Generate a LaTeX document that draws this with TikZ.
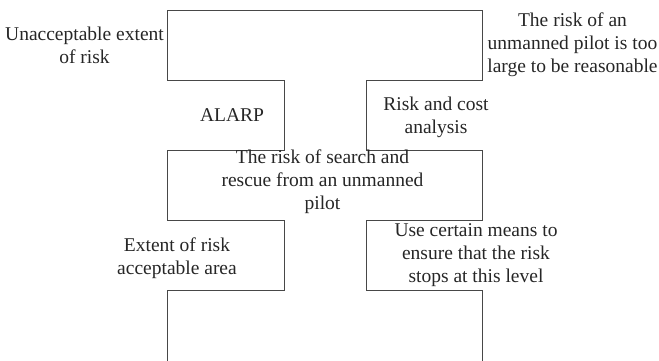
\documentclass[tikz,border=0pt]{standalone}
\usepackage{fontspec}
\setmainfont{Liberation Serif}
\begin{document}
\begin{tikzpicture}[x=1pt,y=-1pt,
  outline/.style={draw=black!72,line width=1pt,line join=miter},
  lbl/.style={align=center,inner sep=0pt,font=\fontsize{19.5}{23}\selectfont,text=black!85}]
\useasboundingbox (0,0) rectangle (659,360);
% outline coordinates
\coordinate (tl) at (167.5,10);
\coordinate (tr) at (482.7,10);
\coordinate (bl) at (167.5,362);
\coordinate (br) at (482.7,362);
\draw[outline] (bl) -- (167.5,290) -- (284.3,290) -- (284.3,220) -- (167.5,220) -- (167.5,150)
  -- (284.3,150) -- (284.3,80) -- (167.5,80) -- (tl) -- (tr) -- (482.7,80) -- (366.7,80)
  -- (366.7,150) -- (482.7,150) -- (482.7,220) -- (366.7,220) -- (366.7,290) -- (482.7,290) -- (br);
% labels
\node[lbl] (unacc) at (84.5,45) {Unacceptable extent\\of risk};
\node[lbl] (toolarge) at (572.5,45) {The risk of an\\unmanned pilot is too\\large to be reasonable};
\node[lbl] (alarp) at (232,115) {ALARP};
\node[lbl] (cost) at (436,117) {Risk and cost\\analysis};
\node[lbl] (search) at (322.5,182) {The risk of search and\\rescue from an unmanned\\pilot};
\node[lbl] (extent) at (177,258.5) {Extent of risk\\acceptable area};
\node[lbl] (means) at (476,255.5) {Use certain means to\\ensure that the risk\\stops at this level};
\end{tikzpicture}
\end{document}
